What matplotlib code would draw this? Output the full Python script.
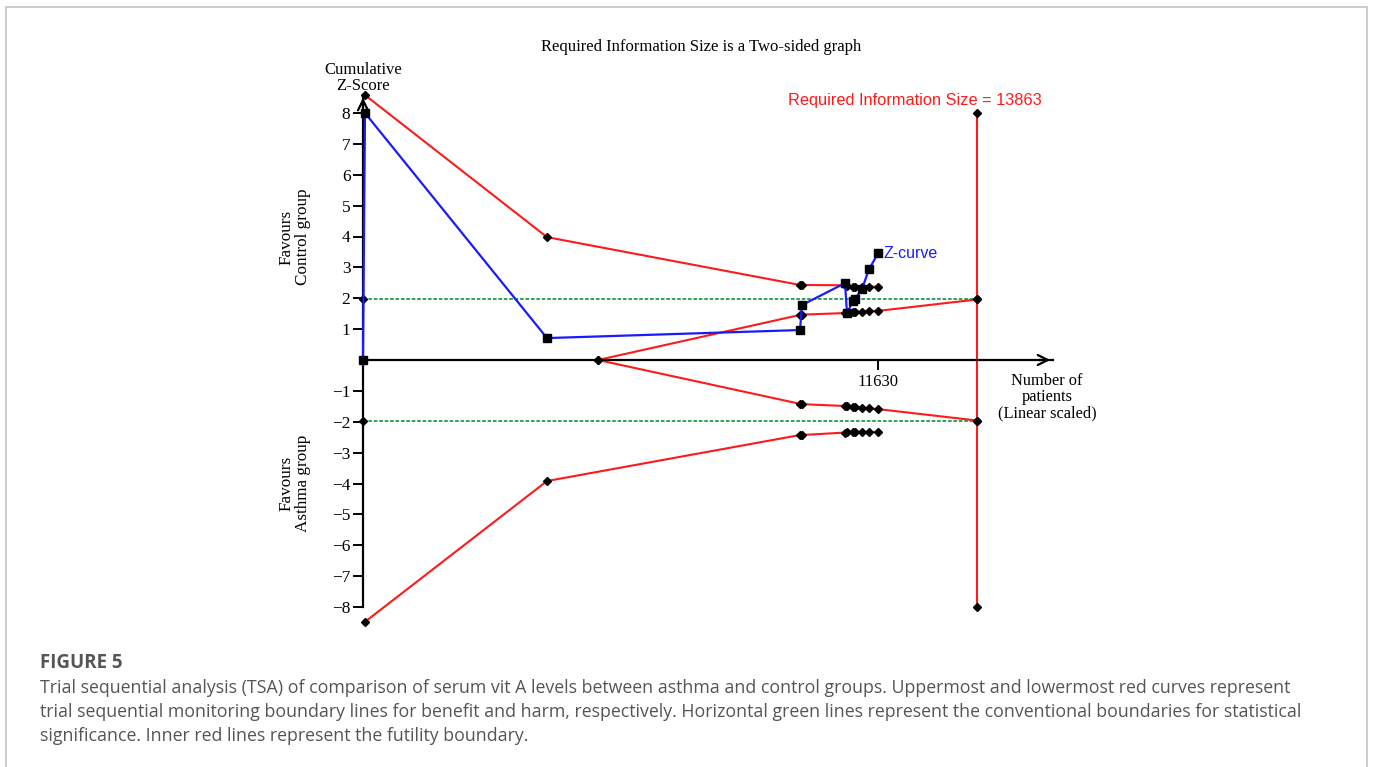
import matplotlib
matplotlib.use("Agg")
import matplotlib.pyplot as plt
from matplotlib.patches import Rectangle

# cumulative z-curve (patients, z)
trial_n = [0, 45, 4155, 9869, 9914, 10885, 10930, 11066, 11111, 11269, 11427, 11630]
z_curve = [0, 8.0, 0.71, 0.97, 1.78, 2.49, 1.52, 1.91, 1.97, 2.30, 2.94, 3.45]

# monitoring boundaries
bound_n = [45, 4155, 9869, 9914, 10885, 10930, 11066, 11111, 11269, 11427, 11630]
upper_bound = [8.58, 3.98, 2.43, 2.43, 2.42, 2.40, 2.38, 2.38, 2.38, 2.38, 2.37]
lower_bound = [-8.48, -3.92, -2.43, -2.43, -2.35, -2.34, -2.33, -2.33, -2.33, -2.33, -2.33]

# futility boundaries
futil_n = [5307, 9869, 9914, 10885, 10930, 11066, 11111, 11269, 11427, 11630, 13863]
futil_upper = [0, 1.46, 1.47, 1.52, 1.53, 1.55, 1.56, 1.57, 1.59, 1.59, 1.96]
futil_lower = [0, -1.42, -1.43, -1.49, -1.50, -1.52, -1.53, -1.55, -1.57, -1.59, -1.96]

ris = 13863
z_conv = 1.96
y_ticks = [-8, -7, -6, -5, -4, -3, -2, -1, 1, 2, 3, 4, 5, 6, 7, 8]
x_ticks = [11630]

W, H = 1375, 767
fig = plt.figure(figsize=(W / 100, H / 100), dpi=100)

# panel border
fig.patches.append(Rectangle((6 / W, -0.1), (1367 - 6) / W, 1.1 - 7 / H,
                             transform=fig.transFigure, fill=False,
                             edgecolor="#c8c8c8", linewidth=1.3))

# axes placed so that x=0 -> px 363, z=0 -> px 360
px_per_n = (878 - 363) / 11630
px_per_z = (607 - 113) / 16
ax_l, ax_r, ax_t, ax_b = 330, 1100, 60, 640
ax = fig.add_axes([ax_l / W, 1 - ax_b / H, (ax_r - ax_l) / W, (ax_b - ax_t) / H])
ax.set_xlim((ax_l - 363) / px_per_n, (ax_r - 363) / px_per_n)
ax.set_ylim((360 - ax_b) / px_per_z, (360 - ax_t) / px_per_z)
ax.patch.set_alpha(0)
for s in ["top", "right"]:
    ax.spines[s].set_visible(False)

x_end = (1053 - 363) / px_per_n
y_end = (360 - 95) / px_per_z
ax.spines["left"].set_position(("data", 0))
ax.spines["bottom"].set_position(("data", 0))
ax.spines["left"].set_bounds(-8, y_end)
ax.spines["bottom"].set_bounds(0, x_end)
ax.spines["left"].set_linewidth(1.6)
ax.spines["bottom"].set_linewidth(1.6)
ax.annotate("", xy=(0, y_end), xytext=(0, y_end - 0.5),
            arrowprops=dict(arrowstyle="->", lw=1.6, color="black", mutation_scale=18))
ax.annotate("", xy=(x_end, 0), xytext=(x_end - 400, 0),
            arrowprops=dict(arrowstyle="->", lw=1.6, color="black", mutation_scale=18))

serif = "Liberation Serif"
ax.set_yticks(y_ticks)
ax.set_yticklabels([("\u2212%d" % -t) if t < 0 else str(t) for t in y_ticks],
                   family=serif, fontsize=12.5)
ax.set_xticks(x_ticks)
ax.set_xticklabels([str(t) for t in x_ticks], family=serif, fontsize=12)
ax.tick_params(axis="y", direction="out", length=7, width=1.4, pad=2)
ax.tick_params(axis="x", direction="out", length=7, width=1.4, pad=3)

green = "#1f9a4a"
ax.plot([0, ris], [z_conv, z_conv], color=green, ls=(0, (2, 1)), lw=1.3)
ax.plot([0, ris], [-z_conv, -z_conv], color=green, ls=(0, (2, 1)), lw=1.3)

red = "#ff1a1a"
dkw = dict(marker="D", ms=3.6, mfc="black", mec="black")
ax.plot(bound_n, upper_bound, color=red, lw=1.5, **dkw)
ax.plot(bound_n, lower_bound, color=red, lw=1.5, **dkw)
ax.plot(futil_n, futil_upper, color=red, lw=1.5, **dkw)
ax.plot(futil_n, futil_lower, color=red, lw=1.5, **dkw)
ax.plot([ris, ris], [-8, 8], color=red, lw=1.5, **dkw)
ax.plot([ris, ris], [z_conv, -z_conv], ls="none", **dkw)
ax.plot([0, 0], [z_conv, -z_conv], ls="none", **dkw)

ax.plot(trial_n, z_curve, color="#1a1aff", lw=1.6, marker="s", ms=5.2,
        mfc="black", mec="black", zorder=5)

def ftext(x, y, s, **kw):
    fig.text(x / W, 1 - y / H, s, **kw)

ftext(701, 47, "Required Information Size is a Two-sided graph", family=serif,
      fontsize=12, ha="center", va="center")
ftext(363, 78, "Cumulative\nZ-Score", family=serif, fontsize=12, ha="center",
      va="center", linespacing=1.0)
ftext(295, 237, "Favours\nControl group", family=serif, fontsize=12.3, ha="center",
      va="center", rotation=90, linespacing=1.0)
ftext(295, 483, "Favours\nAsthma group", family=serif, fontsize=12.3, ha="center",
      va="center", rotation=90, linespacing=1.0)
ftext(1047, 397, "Number of\npatients\n(Linear scaled)", family=serif, fontsize=11.8,
      ha="center", va="center", linespacing=1.0)
ftext(915, 101, "Required Information Size = 13863", family="Liberation Sans",
      fontsize=11.8, color=red, ha="center", va="center")
ftext(883, 253, "Z-curve", family="Liberation Sans", fontsize=11.5, color="#1a1aff",
      ha="left", va="center")

gray = "#555555"
ftext(40, 663, "FIGURE 5", family="Open Sans", fontsize=13.5, weight="bold",
      color=gray, ha="left", va="center")
caption = [
    "Trial sequential analysis (TSA) of comparison of serum vit A levels between asthma and control groups. Uppermost and lowermost red curves represent",
    "trial sequential monitoring boundary lines for benefit and harm, respectively. Horizontal green lines represent the conventional boundaries for statistical",
    "significance. Inner red lines represent the futility boundary.",
]
for i, line in enumerate(caption):
    ftext(40, 688 + 24 * i, line, family="Open Sans", fontsize=12.8, color=gray,
          ha="left", va="center")

fig.savefig("out.png", dpi=100)
